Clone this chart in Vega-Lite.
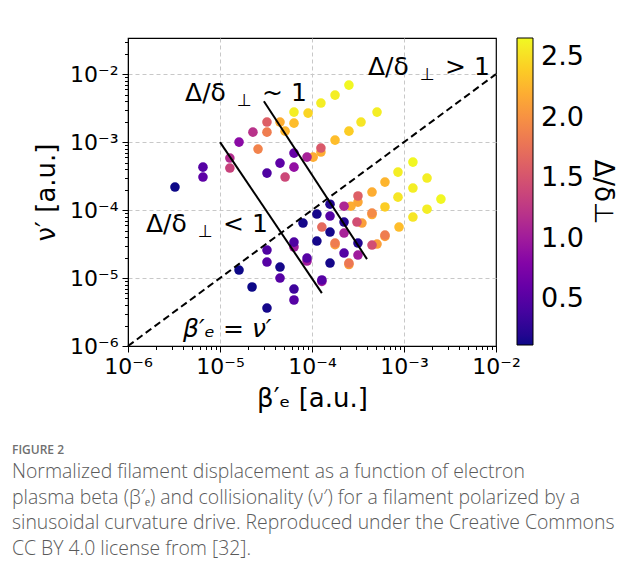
{
  "$schema": "https://vega.github.io/schema/vega-lite/v6.json",
  "width": 368,
  "height": 308,
  "autosize": {"type": "none"},
  "padding": {"left": 128, "top": 38, "right": 143, "bottom": 232},
  "background": "white",
  "config": {
    "view": {"stroke": "black", "strokeWidth": 1.2},
    "font": "DejaVu Sans",
    "axis": {
      "domainColor": "black",
      "tickColor": "black",
      "labelColor": "black",
      "titleColor": "black",
      "labelFont": "DejaVu Sans",
      "titleFont": "DejaVu Sans",
      "titleFontWeight": "normal",
      "gridColor": "#c8c8c8",
      "gridDash": [4, 3],
      "labelOverlap": false,
      "labelFlush": false
    }
  },
  "datasets": {
    "points": [
      {"x": 3.24e-6, "y": 2.18e-4, "d": 0.12},
      {"x": 6.53e-6, "y": 4.28e-4, "d": 0.5},
      {"x": 6.53e-6, "y": 3.06e-4, "d": 0.55},
      {"x": 1.28e-5, "y": 5.82e-4, "d": 1.15},
      {"x": 1.28e-5, "y": 4.15e-4, "d": 1.35},
      {"x": 1.61e-5, "y": 1.0e-3, "d": 0.85},
      {"x": 2.28e-5, "y": 1.40e-3, "d": 1.2},
      {"x": 3.24e-5, "y": 1.97e-3, "d": 1.6},
      {"x": 3.24e-5, "y": 1.40e-3, "d": 1.85},
      {"x": 2.59e-5, "y": 7.89e-4, "d": 1.9},
      {"x": 3.24e-5, "y": 3.50e-4, "d": 0.45},
      {"x": 4.49e-5, "y": 1.97e-3, "d": 2.2},
      {"x": 5.10e-5, "y": 1.45e-3, "d": 2.25},
      {"x": 4.49e-5, "y": 4.91e-4, "d": 0.55},
      {"x": 5.10e-5, "y": 3.06e-4, "d": 1.4},
      {"x": 6.37e-5, "y": 2.76e-3, "d": 2.6},
      {"x": 6.37e-5, "y": 1.90e-3, "d": 2.3},
      {"x": 6.37e-5, "y": 6.89e-4, "d": 0.6},
      {"x": 6.37e-5, "y": 4.28e-4, "d": 0.9},
      {"x": 9.06e-5, "y": 2.67e-3, "d": 2.45},
      {"x": 1.03e-4, "y": 6.01e-4, "d": 2.2},
      {"x": 8.83e-5, "y": 6.01e-4, "d": 1.05},
      {"x": 1.25e-4, "y": 3.75e-3, "d": 2.6},
      {"x": 1.25e-4, "y": 7.13e-4, "d": 2.2},
      {"x": 1.25e-4, "y": 8.17e-4, "d": 1.55},
      {"x": 1.78e-4, "y": 4.91e-3, "d": 2.6},
      {"x": 1.78e-4, "y": 1.07e-3, "d": 2.3},
      {"x": 2.52e-4, "y": 6.89e-3, "d": 2.65},
      {"x": 2.52e-4, "y": 1.45e-3, "d": 2.4},
      {"x": 3.41e-4, "y": 1.97e-3, "d": 2.55},
      {"x": 5.09e-4, "y": 2.76e-3, "d": 2.6},
      {"x": 1.61e-5, "y": 1.31e-5, "d": 0.12},
      {"x": 2.23e-5, "y": 7.38e-6, "d": 0.12},
      {"x": 3.24e-5, "y": 3.62e-6, "d": 0.15},
      {"x": 3.24e-5, "y": 2.58e-5, "d": 0.45},
      {"x": 3.24e-5, "y": 1.72e-5, "d": 0.5},
      {"x": 4.49e-5, "y": 1.45e-5, "d": 0.15},
      {"x": 4.49e-5, "y": 1.0e-5, "d": 0.5},
      {"x": 6.37e-5, "y": 2.86e-5, "d": 1.0},
      {"x": 6.37e-5, "y": 3.38e-5, "d": 0.45},
      {"x": 6.37e-5, "y": 6.89e-6, "d": 0.35},
      {"x": 6.37e-5, "y": 4.75e-6, "d": 0.5},
      {"x": 7.98e-5, "y": 6.44e-5, "d": 0.15},
      {"x": 8.83e-5, "y": 1.78e-5, "d": 1.0},
      {"x": 8.83e-5, "y": 1.97e-5, "d": 0.5},
      {"x": 1.13e-4, "y": 8.74e-5, "d": 0.15},
      {"x": 1.13e-4, "y": 3.50e-5, "d": 0.15},
      {"x": 1.28e-4, "y": 5.62e-5, "d": 1.7},
      {"x": 1.28e-4, "y": 8.9e-6, "d": 1.0},
      {"x": 1.28e-4, "y": 9.35e-6, "d": 0.5},
      {"x": 1.57e-4, "y": 1.22e-4, "d": 0.2},
      {"x": 1.57e-4, "y": 8.16e-5, "d": 0.5},
      {"x": 1.57e-4, "y": 4.75e-5, "d": 0.15},
      {"x": 1.57e-4, "y": 1.66e-5, "d": 0.15},
      {"x": 1.78e-4, "y": 3.1e-5, "d": 2.1},
      {"x": 1.78e-4, "y": 3.27e-5, "d": 1.85},
      {"x": 2.65e-4, "y": 1.14e-4, "d": 2.2},
      {"x": 2.23e-4, "y": 1.14e-4, "d": 1.1},
      {"x": 2.23e-4, "y": 6.66e-5, "d": 0.2},
      {"x": 2.23e-4, "y": 4.59e-5, "d": 1.05},
      {"x": 2.23e-4, "y": 2.33e-5, "d": 0.5},
      {"x": 2.52e-4, "y": 1.58e-5, "d": 2.1},
      {"x": 2.52e-4, "y": 1.66e-5, "d": 1.8},
      {"x": 3.49e-4, "y": 6.44e-5, "d": 2.1},
      {"x": 3.08e-4, "y": 6.66e-5, "d": 1.45},
      {"x": 3.16e-4, "y": 3.27e-5, "d": 0.2},
      {"x": 3.16e-4, "y": 2.18e-5, "d": 1.0},
      {"x": 3.16e-4, "y": 1.31e-4, "d": 2.15},
      {"x": 3.16e-4, "y": 1.61e-4, "d": 1.6},
      {"x": 4.49e-4, "y": 1.84e-4, "d": 2.2},
      {"x": 4.49e-4, "y": 8.6e-5, "d": 2.2},
      {"x": 4.49e-4, "y": 9.04e-5, "d": 1.95},
      {"x": 5.09e-4, "y": 3.16e-5, "d": 2.1},
      {"x": 4.49e-4, "y": 3.06e-5, "d": 1.45},
      {"x": 6.21e-4, "y": 2.58e-4, "d": 2.25},
      {"x": 6.21e-4, "y": 1.11e-4, "d": 2.4},
      {"x": 6.21e-4, "y": 4.1e-5, "d": 2.1},
      {"x": 6.21e-4, "y": 4.29e-5, "d": 1.85},
      {"x": 8.6e-4, "y": 3.62e-4, "d": 2.6},
      {"x": 8.6e-4, "y": 1.55e-4, "d": 2.55},
      {"x": 8.83e-4, "y": 5.62e-5, "d": 2.3},
      {"x": 1.25e-3, "y": 5.08e-4, "d": 2.65},
      {"x": 1.25e-3, "y": 2.11e-4, "d": 2.6},
      {"x": 1.25e-3, "y": 7.89e-5, "d": 2.55},
      {"x": 1.78e-3, "y": 2.96e-4, "d": 2.6},
      {"x": 1.78e-3, "y": 1.03e-4, "d": 2.6},
      {"x": 2.52e-3, "y": 1.45e-4, "d": 2.65}
    ],
    "diag": [
      {"x": 1e-6, "y": 1e-6},
      {"x": 1e-2, "y": 1e-2}
    ],
    "bounds": [
      {"seg": "a", "x": 1.0e-5, "y": 1.0e-3},
      {"seg": "a", "x": 1.28e-4, "y": 6.0e-6},
      {"seg": "b", "x": 3.0e-5, "y": 4.0e-3},
      {"seg": "b", "x": 3.96e-4, "y": 1.9e-5}
    ],
    "annots": [
      {"x": 4.17e-6, "y": 4.01e-3, "rel": "~ 1"},
      {"x": 4.06e-4, "y": 9.66e-3, "rel": "> 1"},
      {"x": 1.57e-6, "y": 4.74e-5, "rel": "< 1"}
    ],
    "eq": [
      {"x": 3.96e-6, "y": 1.36e-6, "label": "β′ₑ = ν′"}
    ]
  },
  "encoding": {
    "x": {
      "field": "x",
      "type": "quantitative",
      "scale": {"type": "log", "domain": [1e-6, 1e-2], "nice": false, "zero": false},
      "axis": {
        "title": "β′ₑ [a.u.]",
        "titleFontSize": 26,
        "titlePadding": 8,
        "labelFontSize": 22,
        "labelPadding": 4,
        "values": [1e-6, 2e-6, 3e-6, 4e-6, 5e-6, 6e-6, 7e-6, 8e-6, 9e-6, 1e-5, 2e-5, 3e-5, 4e-5, 5e-5, 6e-5, 7e-5, 8e-5, 9e-5, 1e-4, 2e-4, 3e-4, 4e-4, 5e-4, 6e-4, 7e-4, 8e-4, 9e-4, 1e-3, 2e-3, 3e-3, 4e-3, 5e-3, 6e-3, 7e-3, 8e-3, 9e-3, 1e-2],
        "labelExpr": "datum.value === 1e-6 ? '10⁻⁶' : datum.value === 1e-5 ? '10⁻⁵' : datum.value === 1e-4 ? '10⁻⁴' : datum.value === 1e-3 ? '10⁻³' : datum.value === 1e-2 ? '10⁻²' : ''",
        "tickSize": {"condition": {"test": "indexof([1e-6, 1e-5, 1e-4, 1e-3, 1e-2], datum.value) >= 0", "value": 6}, "value": 3.5},
        "gridOpacity": {"condition": {"test": "indexof([1e-5, 1e-4, 1e-3], datum.value) >= 0", "value": 1}, "value": 0}
      }
    },
    "y": {
      "field": "y",
      "type": "quantitative",
      "scale": {"type": "log", "domain": [1e-6, 0.034], "nice": false, "zero": false},
      "axis": {
        "title": "ν′ [a.u.]",
        "titleFontSize": 26,
        "titlePadding": 10,
        "labelFontSize": 22,
        "labelPadding": 4,
        "values": [1e-6, 2e-6, 3e-6, 4e-6, 5e-6, 6e-6, 7e-6, 8e-6, 9e-6, 1e-5, 2e-5, 3e-5, 4e-5, 5e-5, 6e-5, 7e-5, 8e-5, 9e-5, 1e-4, 2e-4, 3e-4, 4e-4, 5e-4, 6e-4, 7e-4, 8e-4, 9e-4, 1e-3, 2e-3, 3e-3, 4e-3, 5e-3, 6e-3, 7e-3, 8e-3, 9e-3, 1e-2, 2e-2, 3e-2],
        "labelExpr": "datum.value === 1e-6 ? '10⁻⁶' : datum.value === 1e-5 ? '10⁻⁵' : datum.value === 1e-4 ? '10⁻⁴' : datum.value === 1e-3 ? '10⁻³' : datum.value === 1e-2 ? '10⁻²' : ''",
        "tickSize": {"condition": {"test": "indexof([1e-6, 1e-5, 1e-4, 1e-3, 1e-2], datum.value) >= 0", "value": 6}, "value": 3.5},
        "gridOpacity": {"condition": {"test": "indexof([1e-5, 1e-4, 1e-3, 1e-2], datum.value) >= 0", "value": 1}, "value": 0}
      }
    }
  },
  "layer": [
    {
      "data": {"name": "points"},
      "mark": {"type": "circle", "size": 92, "opacity": 1},
      "encoding": {
        "color": {
          "field": "d",
          "type": "quantitative",
          "scale": {"scheme": "plasma", "domain": [0.12, 2.66]},
          "legend": {
            "orient": "right",
            "offset": 21,
            "direction": "vertical",
            "gradientLength": 307,
            "gradientThickness": 16,
            "gradientStrokeColor": "black",
            "gradientStrokeWidth": 1,
            "values": [0.5, 1.0, 1.5, 2.0, 2.5],
            "format": ".1f",
            "labelFont": "DejaVu Sans",
            "labelFontSize": 27,
            "labelColor": "black",
            "labelOffset": 8,
            "title": "Δ/δ⊥",
            "titleFont": "DejaVu Sans",
            "titleFontSize": 26,
            "titleFontWeight": "normal",
            "titleColor": "black",
            "titleOrient": "right",
            "titleAnchor": "middle",
            "titlePadding": 6,
            "encode": {"title": {"update": {"angle": {"value": -90}}}}
          }
        }
      }
    },
    {
      "data": {"name": "diag"},
      "mark": {"type": "line", "color": "black", "strokeWidth": 2, "strokeDash": [7, 4]},
      "encoding": {}
    },
    {
      "data": {"name": "bounds"},
      "mark": {"type": "line", "color": "black", "strokeWidth": 2},
      "encoding": {"detail": {"field": "seg", "type": "nominal"}}
    },
    {
      "data": {"name": "annots"},
      "mark": {"type": "text", "text": "Δ/δ", "align": "left", "baseline": "alphabetic", "fontSize": 25, "font": "DejaVu Sans", "color": "black"}
    },
    {
      "data": {"name": "annots"},
      "mark": {"type": "text", "text": "⊥", "align": "left", "baseline": "alphabetic", "fontSize": 17, "dx": 52, "dy": 5, "font": "DejaVu Sans", "color": "black"}
    },
    {
      "data": {"name": "annots"},
      "mark": {"type": "text", "align": "left", "baseline": "alphabetic", "fontSize": 25, "dx": 77, "font": "DejaVu Sans", "color": "black"},
      "encoding": {"text": {"field": "rel", "type": "nominal"}}
    },
    {
      "data": {"name": "eq"},
      "mark": {"type": "text", "align": "left", "baseline": "alphabetic", "fontSize": 25, "fontStyle": "italic", "font": "DejaVu Sans", "color": "black"},
      "encoding": {"text": {"field": "label", "type": "nominal"}}
    }
  ],
  "title": {
    "text": "FIGURE 2",
    "subtitle": [
      "Normalized filament displacement as a function of electron",
      "plasma beta (β′ₑ) and collisionality (ν′) for a filament polarized by a",
      "sinusoidal curvature drive. Reproduced under the Creative Commons",
      "CC BY 4.0 license from [32]."
    ],
    "orient": "bottom",
    "anchor": "start",
    "frame": "group",
    "dx": -116,
    "offset": 34,
    "font": "Open Sans",
    "fontSize": 12,
    "fontWeight": 600,
    "color": "#707070",
    "subtitleFont": "Open Sans",
    "subtitleFontSize": 19.4,
    "subtitleFontWeight": 300,
    "subtitleColor": "#5a5a5a",
    "subtitleLineHeight": 25.7,
    "subtitlePadding": 6
  }
}
